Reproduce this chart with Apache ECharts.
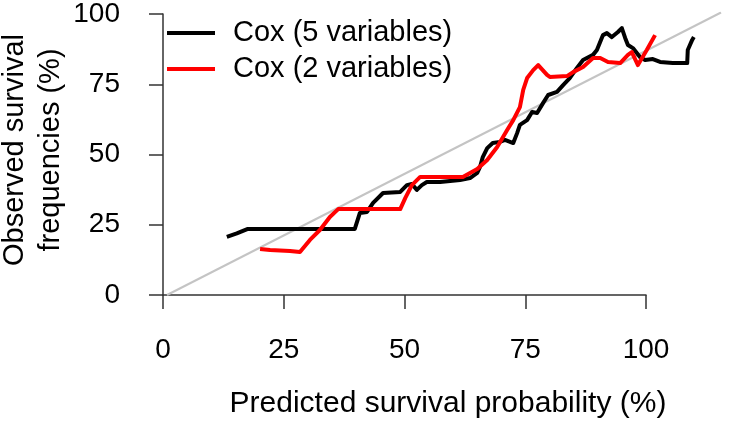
<!DOCTYPE html>
<html>
<head>
<meta charset="utf-8">
<script src="https://cdn.jsdelivr.net/npm/echarts@6/dist/echarts.min.js"></script>
<style>
html,body{margin:0;padding:0;background:#fff;}
#chart{width:752px;height:424px;}
</style>
</head>
<body>
<div id="chart"></div>
<script>
// ---- data ----
var tickValues = [0, 25, 50, 75, 100];
var seriesNames = ['Cox (5 variables)', 'Cox (2 variables)'];

var cox5Pred = [10.8, 12.6, 14.6, 33.9, 34.8, 36.1, 37.2, 39.0, 42.1, 43.3, 44.2, 45.1, 46.0, 46.9, 49.3, 52.9, 54.7, 56.0, 56.5, 57.0, 57.8, 58.8, 60.1, 61.0, 62.5, 63.2, 63.7, 65.0, 65.9, 66.8, 67.9, 68.8, 70.4, 71.5, 72.7, 74.0, 75.1, 76.9, 77.6, 78.7, 79.4, 80.3, 81.4, 82.1, 82.7, 83.2, 84.1, 85.4, 86.3, 87.7, 89.0, 91.3, 93.9, 94.0, 94.8, 95.1];
var cox5Obs  = [20.6, 21.8, 23.4, 23.4, 29.0, 29.4, 32.6, 36.1, 36.5, 38.9, 39.3, 37.2, 38.9, 40.0, 40.0, 40.7, 41.4, 43.2, 45.3, 48.8, 52.0, 53.8, 54.2, 54.9, 53.8, 57.3, 60.2, 61.9, 64.8, 64.4, 68.0, 70.8, 71.9, 74.3, 76.8, 80.4, 83.2, 85.0, 86.7, 92.0, 92.7, 91.3, 93.1, 94.5, 91.0, 88.5, 87.4, 84.2, 83.2, 83.5, 82.5, 82.1, 82.1, 86.7, 90.3, 91.3];

var cox2Pred = [16.8, 18.6, 22.2, 24.0, 25.8, 27.6, 29.4, 30.9, 42.1, 43.0, 44.2, 45.7, 53.4, 56.0, 57.8, 59.6, 61.4, 62.5, 63.7, 64.3, 65.0, 66.1, 67.0, 68.6, 69.1, 72.2, 73.3, 75.1, 76.9, 78.2, 79.6, 81.8, 83.2, 83.9, 85.0, 86.6, 88.1];
var cox2Obs  = [16.3, 15.9, 15.6, 15.2, 19.5, 23.0, 27.6, 30.4, 30.4, 34.3, 38.9, 41.8, 41.8, 44.6, 47.8, 52.4, 58.4, 61.9, 66.5, 72.6, 76.8, 79.6, 81.4, 77.9, 77.2, 77.5, 78.9, 80.7, 83.9, 83.9, 82.5, 82.1, 85.0, 86.0, 81.4, 86.7, 92.0];

var refX = [0, 100];
var refY = [0, 100];

function pairs(xs, ys) { return xs.map(function (x, i) { return [x, ys[i]]; }); }

var FONT = '"Liberation Sans", Arial, Helvetica, sans-serif';
var AXIS_COLOR = '#333';

var chart = echarts.init(document.getElementById('chart'), null, {renderer: 'canvas'});
var option = {
  animation: false,
  backgroundColor: '#ffffff',
  textStyle: {fontFamily: FONT},
  grid: [
    {left: 163, top: 13.3, width: 483, height: 281.7, containLabel: false},
    {left: 167, top: 12.5, width: 554, height: 282.5, containLabel: false}
  ],
  xAxis: [
    {
      gridIndex: 0, type: 'value', min: 0, max: 100, interval: 25,
      position: 'bottom', offset: 12,
      axisLine: {show: true, lineStyle: {color: AXIS_COLOR, width: 1.5}},
      axisTick: {show: true, length: 14, inside: false, lineStyle: {color: AXIS_COLOR, width: 1.5}},
      axisLabel: {show: true, margin: 29, fontSize: 28, color: '#000', fontFamily: FONT,
        formatter: function (v) { return tickValues.indexOf(v) >= 0 ? String(v) : ''; }},
      splitLine: {show: false}
    },
    {gridIndex: 1, type: 'value', min: 0, max: 100, show: false}
  ],
  yAxis: [
    {
      gridIndex: 0, type: 'value', min: 0, max: 100, interval: 25,
      position: 'left', offset: 20,
      axisLine: {show: true, lineStyle: {color: AXIS_COLOR, width: 1.5}},
      axisTick: {show: true, length: 14, inside: false, lineStyle: {color: AXIS_COLOR, width: 1.5}},
      axisLabel: {show: true, margin: 23, fontSize: 28, color: '#000', fontFamily: FONT},
      splitLine: {show: false}
    },
    {gridIndex: 1, type: 'value', min: 0, max: 100, show: false}
  ],
  legend: {
    show: true,
    orient: 'vertical',
    left: 167,
    top: 18,
    padding: 0,
    itemWidth: 48,
    itemHeight: 4,
    itemGap: 6,
    icon: 'rect',
    data: seriesNames,
    textStyle: {fontSize: 29, color: '#000', fontFamily: FONT, lineHeight: 30, padding: [0, 0, 0, 13]}
  },
  graphic: [
    {
      type: 'text', x: 448, y: 404,
      style: {text: 'Predicted survival probability (%)', fontSize: 30, fontFamily: FONT, fill: '#000',
        textAlign: 'center', textVerticalAlign: 'middle'}
    },
    {
      type: 'text', x: 33, y: 150, rotation: Math.PI / 2,
      style: {text: 'Observed survival\nfrequencies (%)', fontSize: 29, lineHeight: 36, fontFamily: FONT, fill: '#000',
        x: 0, y: 0, textAlign: 'center', textVerticalAlign: 'middle'}
    }
  ],
  series: [
    {
      name: 'reference', type: 'line', xAxisIndex: 1, yAxisIndex: 1,
      data: pairs(refX, refY), symbol: 'none', silent: true,
      lineStyle: {color: '#c4c4c4', width: 2}, z: 1
    },
    {
      name: seriesNames[0], type: 'line', xAxisIndex: 1, yAxisIndex: 1,
      data: pairs(cox5Pred, cox5Obs), symbol: 'none', clip: false,
      itemStyle: {color: '#000000'},
      lineStyle: {color: '#000000', width: 4, join: 'round'}, z: 3
    },
    {
      name: seriesNames[1], type: 'line', xAxisIndex: 1, yAxisIndex: 1,
      data: pairs(cox2Pred, cox2Obs), symbol: 'none', clip: false,
      itemStyle: {color: '#ff0000'},
      lineStyle: {color: '#ff0000', width: 4, join: 'round'}, z: 4
    }
  ]
};
chart.setOption(option);
</script>
</body>
</html>
